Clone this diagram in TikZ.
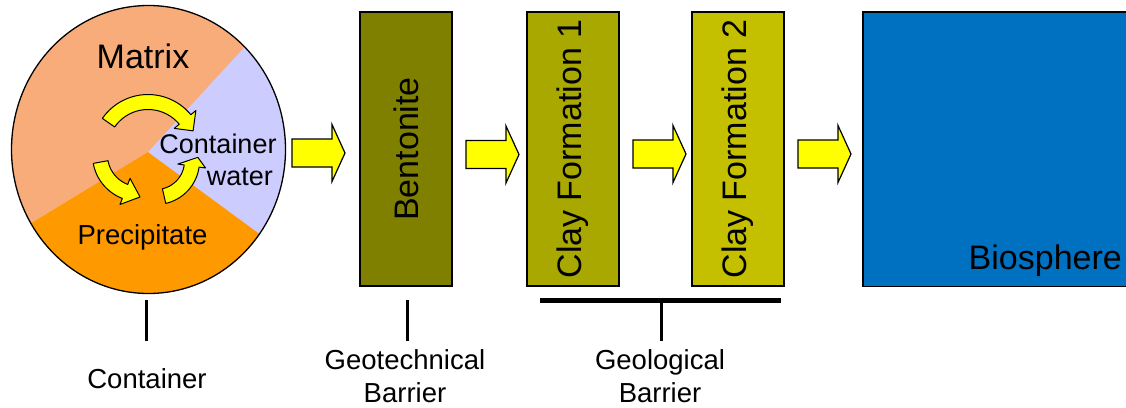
\documentclass[tikz,border=0pt]{standalone}
\usepackage{fontspec}
\setmainfont{Liberation Sans}
\definecolor{matrixc}{RGB}{248,172,122}
\definecolor{precipc}{RGB}{255,153,0}
\definecolor{waterc}{RGB}{204,204,255}
\definecolor{bentc}{RGB}{128,128,0}
\definecolor{clayA}{RGB}{168,168,0}
\definecolor{clayB}{RGB}{196,192,0}
\definecolor{bioc}{RGB}{0,112,192}
\definecolor{arrc}{RGB}{255,255,0}
\newcommand{\blkarr}[2]{\filldraw[blk] (#1,#2-14) -- (#1+40,#2-14) -- (#1+40,#2-28.5) -- (#1+53,#2) -- (#1+40,#2+28.5) -- (#1+40,#2+14) -- (#1,#2+14) -- cycle;}
% #1 cx, #2 cy, #3 r, #4 tail angle, #5 head base angle, #6 tip angle, #7 tip radial offset
\newcommand{\curvarr}[7]{\filldraw[cyc] plot[domain=#4:#5, samples=30] ({#1+(#3+7.5)*cos(\x)}, {#2+(#3+7.5)*sin(\x)})
 -- ({#1+(#3+14)*cos(#5)}, {#2+(#3+14)*sin(#5)})
 -- ({#1+(#3+#7)*cos(#6)}, {#2+(#3+#7)*sin(#6)})
 -- ({#1+(#3-14)*cos(#5)}, {#2+(#3-14)*sin(#5)})
 -- plot[domain=#5:#4, samples=30] ({#1+(#3-7.5)*cos(\x)}, {#2+(#3-7.5)*sin(\x)}) -- cycle;}
\begin{document}
\begin{tikzpicture}[x=1pt,y=-1pt,
  box/.style={draw=black, line width=1.2pt, inner sep=0pt, font=\fontsize{34}{40}\selectfont},
  blk/.style={fill=arrc, draw=black, line width=1.2pt, line join=miter},
  cyc/.style={fill=arrc, draw=black, line width=1pt, line join=round},
  lbl/.style={inner sep=0pt, font=\fontsize{27.5}{33}\selectfont, align=center},
  intext/.style={inner sep=0pt, font=\fontsize{27}{32}\selectfont},
  tick/.style={line width=3pt}]
\useasboundingbox (0,0) rectangle (1126,407);
% container pie
\coordinate (cc) at (148.5,149.5);
\coordinate (J) at (148,152);
\fill[precipc] (cc) ellipse [x radius=137, y radius=144];
\begin{scope}
\clip (cc) ellipse [x radius=137, y radius=144];
\fill[matrixc] (J) -- (424,-148) -- (-300,-300) -- (-197,362) -- cycle;
\fill[waterc] (J) -- (424,-148) -- (600,-148) -- (600,392) -- (475,392) -- cycle;
\end{scope}
\draw[line width=1.3pt] (cc) ellipse [x radius=137, y radius=144];
% cycle arrows
\curvarr{148}{150}{48}{214.7}{320.5}{337}{1}
\curvarr{139}{155}{39}{169.6}{111}{88.6}{3}
\curvarr{156}{161}{36}{77}{8}{-5}{6}
% texts in container
\node[anchor=base, inner sep=0pt, font=\fontsize{34}{40}\selectfont] (mat) at (143,68) {Matrix};
\node[intext, anchor=base] (cw1) at (218,153) {Container};
\node[intext, anchor=base east] (cw2) at (273,185) {water};
\node[anchor=base, inner sep=0pt, font=\fontsize{27.5}{32}\selectfont] (prec) at (142.5,244) {Precipitate};
% barriers
\node[box, fill=bentc, rotate=90, minimum width=274pt, minimum height=92pt] (bent) at (406,149) {Bentonite};
\node[box, fill=clayA, rotate=90, minimum width=274pt, minimum height=92pt] (clay1) at (573,149) {Clay Formation 1};
\node[box, fill=clayB, rotate=90, minimum width=274pt, minimum height=92pt] (clay2) at (738,149) {Clay Formation 2};
\node[fill=bioc, inner sep=0pt, minimum width=264pt, minimum height=274pt, anchor=north west] (bio) at (863,12) {};
\draw[line width=1.2pt] (bio.north east) -- (bio.north west) -- (bio.south west) -- (bio.south east);
\node[inner sep=0pt, anchor=base east, font=\fontsize{34}{40}\selectfont] (biot) at (1122,269) {Biosphere};
% block arrows
\blkarr{292}{153}
\blkarr{466}{154.5}
\blkarr{633}{154}
\blkarr{798}{154}
% bottom labels
\node[lbl, anchor=base] (lcont) at (147,388) {Container};
\node[lbl, anchor=north] (lgeot) at (405,349) {Geotechnical\\Barrier};
\node[lbl, anchor=north] (lgeol) at (660,349) {Geological\\Barrier};
\coordinate (t1a) at (146,300);
\coordinate (t1b) at (146,341);
\coordinate (t2a) at (407,300);
\coordinate (t2b) at (407,341);
\coordinate (ba) at (540,300.5);
\coordinate (bb) at (781,300.5);
\coordinate (t3a) at (661,302);
\coordinate (t3b) at (661,341);
\draw[tick] (t1a) -- (t1b);
\draw[tick] (t2a) -- (t2b);
\draw[line width=5pt] (ba) -- (bb);
\draw[tick] (t3a) -- (t3b);
\end{tikzpicture}
\end{document}
